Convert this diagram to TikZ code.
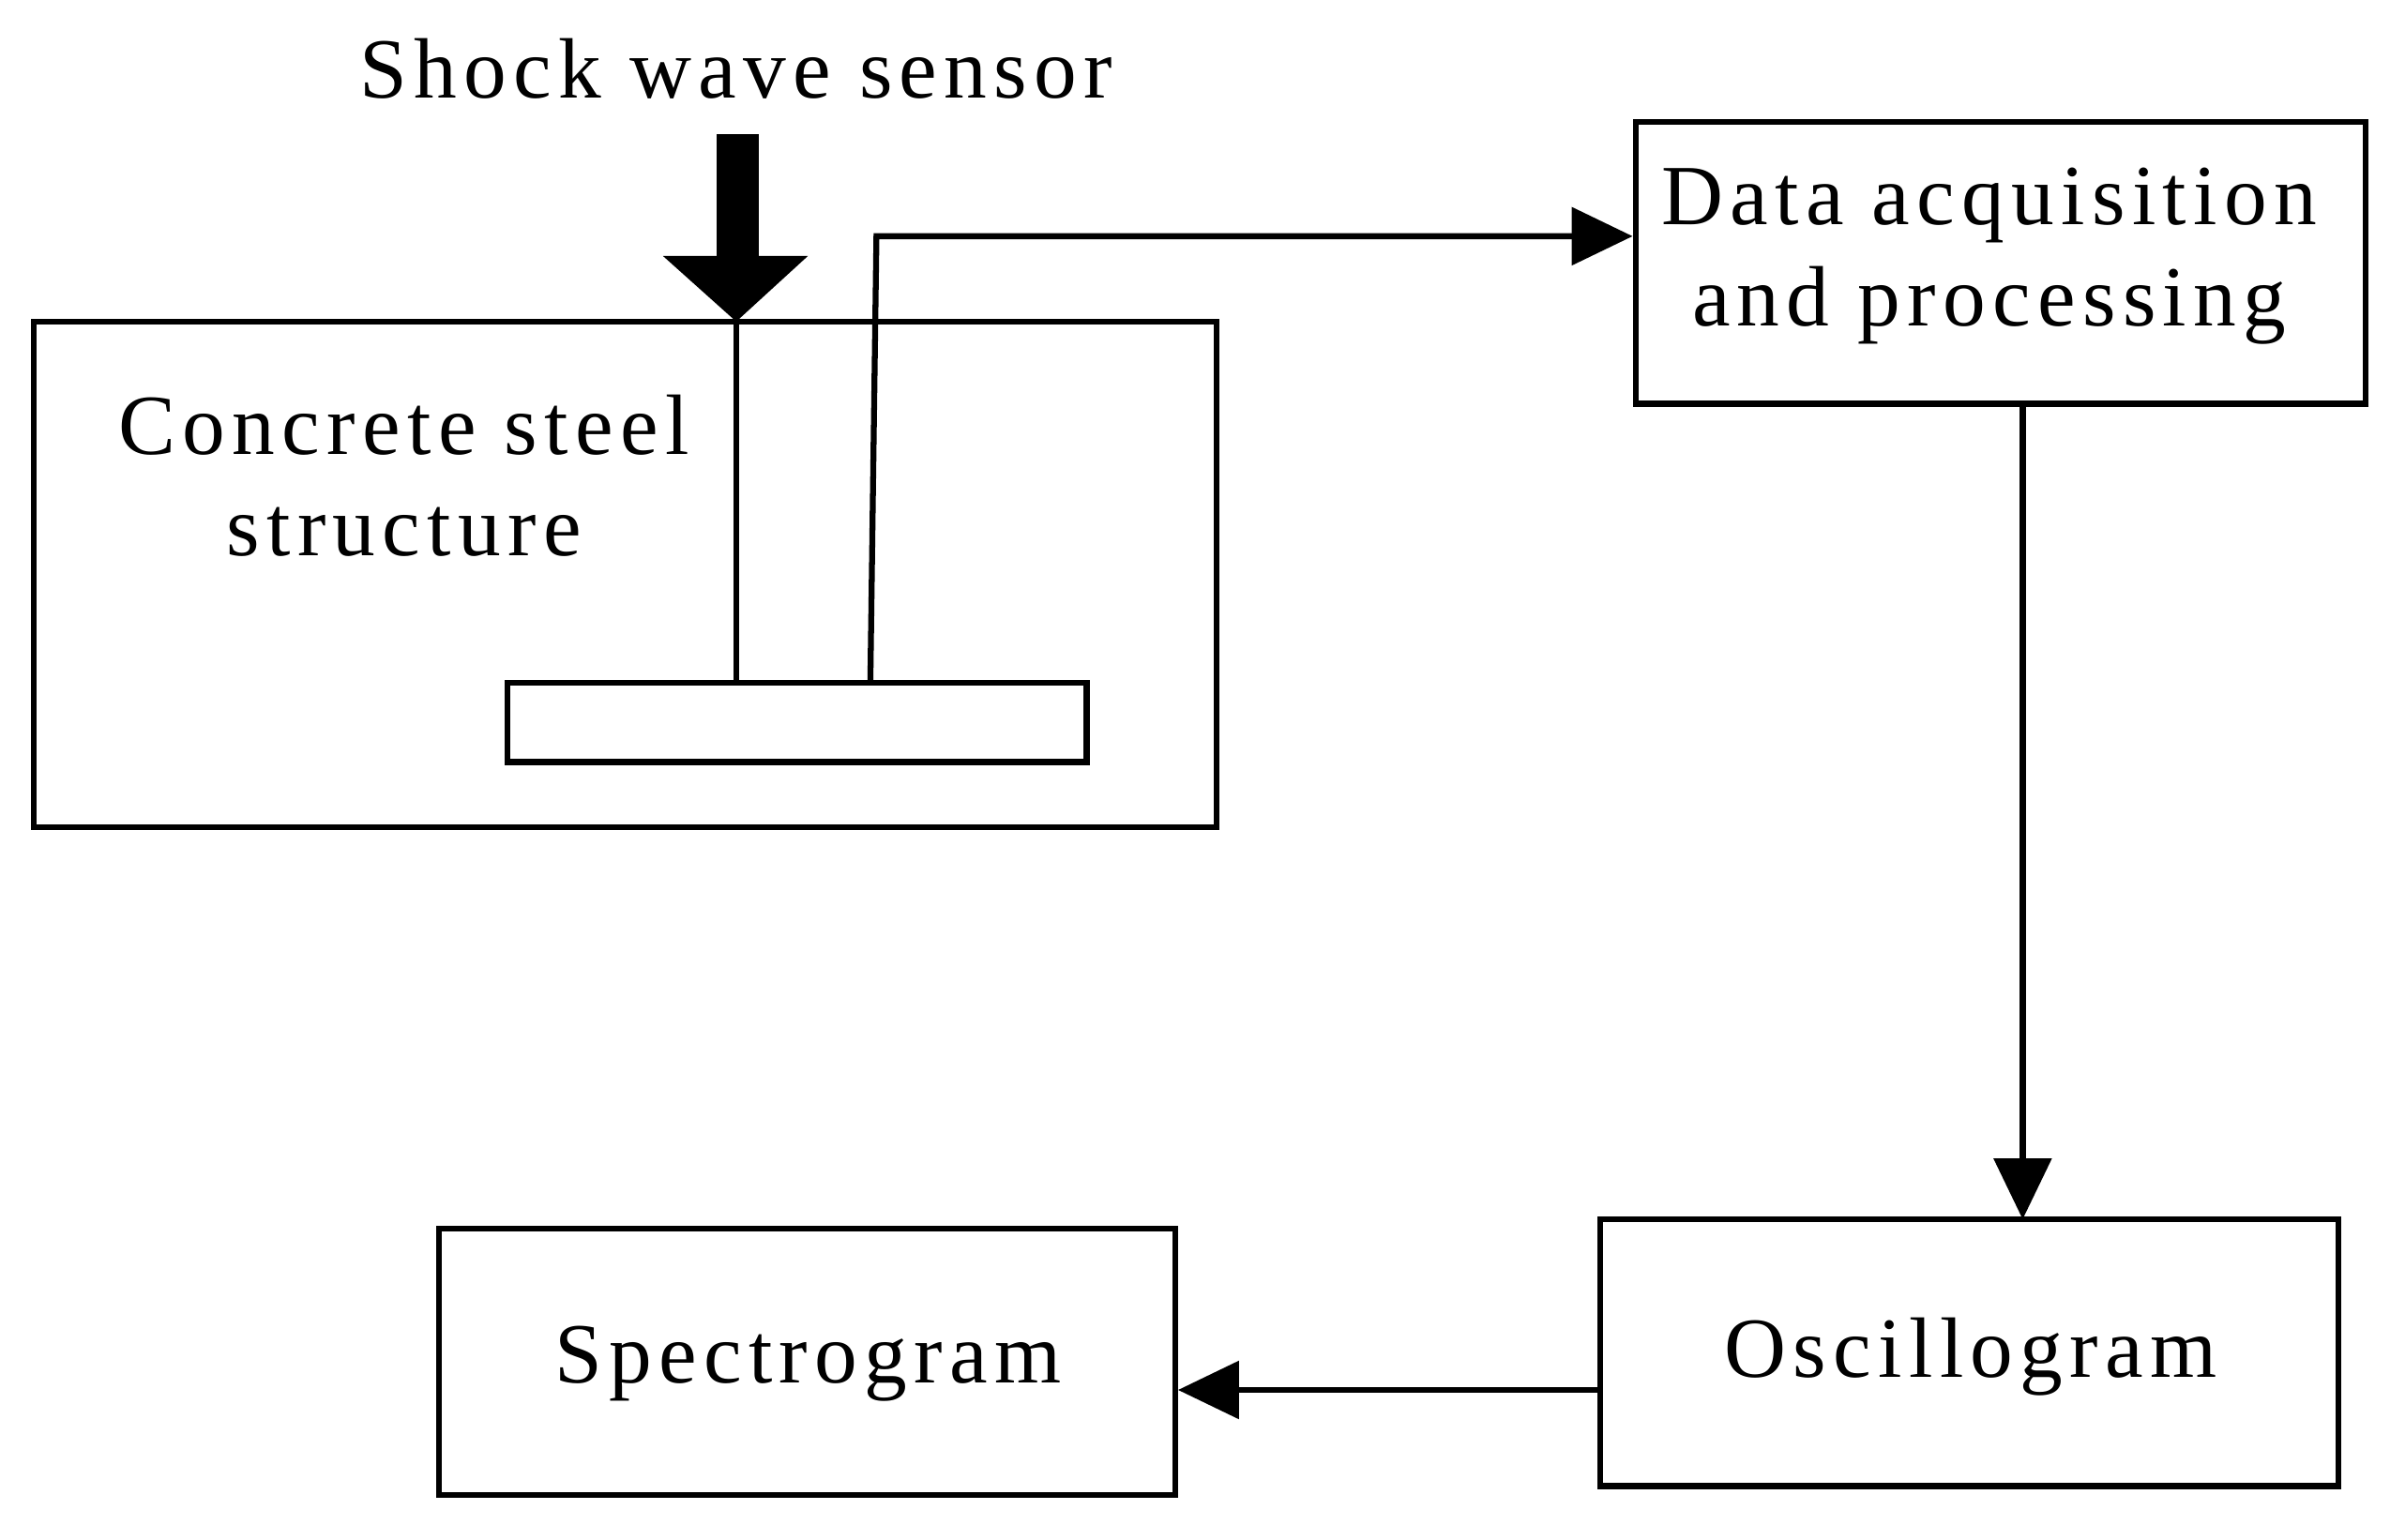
\documentclass[tikz,border=0pt]{standalone}
\usepackage{fontspec}
\setmainfont{Liberation Serif}[LetterSpace=8]
\usetikzlibrary{arrows.meta}
\begin{document}
\begin{tikzpicture}[x=0.02cm,y=-0.02cm,
  box/.style={draw,line width=2.2pt,inner sep=0pt},
  ln/.style={line width=2.2pt},
  arr/.style={ln,-{Triangle[length=0.8cm,width=0.75cm]}},
  txt/.style={font=\fontsize{32}{38}\selectfont,inner sep=0pt}]
\useasboundingbox (0,0) rectangle (1568,1010);
\node[box,minimum width=15.52cm,minimum height=6.64cm] (cs) at (410,377) {};
\node[box,minimum width=7.6cm,minimum height=1.04cm] (pl) at (523,474) {};
\node[box,minimum width=9.58cm,minimum height=3.7cm] (da) at (1312.5,172.5) {};
\node[box,minimum width=9.68cm,minimum height=3.5cm] (os) at (1292,887.5) {};
\node[box,minimum width=9.66cm,minimum height=3.5cm] (sp) at (529.5,893.5) {};
\node[txt] (sw) at (483,45) {Shock wave sensor};
\node[txt,align=center] (cst) at (265,312) {Concrete steel\\structure};
\node[txt,align=center] (dat) at (1305,168) {Data acquisition\\and processing};
\node[txt] at (1293,890) {Oscillogram};
\node[txt] at (530,895) {Spectrogram};
\coordinate (tip) at (483,211);
\fill (470,88) rectangle (498,168);
\fill (435,168) -- (530,168) -- (tip) -- cycle;
\draw[ln] (tip) -- (483,448);
\draw[arr] (571,448) -- (575,155) -- (da.west |- 0,155);
\draw[arr] (1327,265) -- (1327,800);
\draw[arr] (os.west |- 0,912) -- (sp.east |- 0,912);
\end{tikzpicture}
\end{document}
